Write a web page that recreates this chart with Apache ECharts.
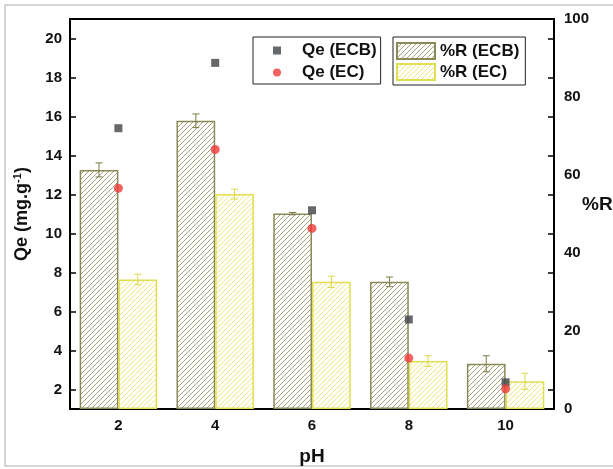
<!DOCTYPE html>
<html>
<head>
<meta charset="utf-8">
<script src="https://cdn.jsdelivr.net/npm/echarts@6/dist/echarts.min.js"></script>
<style>html,body{margin:0;padding:0;background:#fff}#c{width:613px;height:469px}</style>
</head>
<body>
<div id="c"></div>
<script>
// ---- data ----
const categories = ['2', '4', '6', '8', '10'];
const qeECB = [15.40, 18.75, 11.19, 5.59, 2.37];
const qeEC = [12.32, 14.31, 10.26, 3.61, 2.04];
const rECB = [61.3, 73.9, 50.1, 32.6, 11.6];
const rEC = [33.2, 55.1, 32.6, 12.3, 7.1];
const errECB = [1.8, 1.75, 0.3, 1.23, 2.05];
const errEC = [1.36, 1.28, 1.46, 1.36, 2.05];
const leftTicks = [2, 4, 6, 8, 10, 12, 14, 16, 18, 20];
const rightLabels = [0, 20, 40, 60, 80, 100];

const FONT = 'Liberation Sans, Arial, sans-serif';

function hatch(color) {
  const s = 5;
  const c = document.createElement('canvas');
  c.width = s; c.height = s;
  const ctx = c.getContext('2d');
  ctx.strokeStyle = color;
  ctx.lineWidth = 1;
  ctx.beginPath();
  ctx.moveTo(0, s); ctx.lineTo(s, 0);
  ctx.moveTo(-1, 1); ctx.lineTo(1, -1);
  ctx.moveTo(s - 1, s + 1); ctx.lineTo(s + 1, s - 1);
  ctx.stroke();
  return c;
}

const ecbBorder = '#8a8a58';
const ecBorder = '#e2de52';
const ecbHatch = hatch('#a4a47c');
const ecHatch = hatch('#ecea86');

function errSeries(name, vals, errs, offset, color) {
  return {
    name: name + ' err',
    type: 'custom',
    yAxisIndex: 1,
    z: 5,
    silent: true,
    data: vals.map((v, i) => [i, v, errs[i]]),
    renderItem: function (params, api) {
      const ci = api.value(0), v = api.value(1), e = api.value(2);
      const band = api.size([1, 0])[0];
      const x = api.coord([ci, 0])[0] + offset * band;
      const yt = api.coord([ci, v + e])[1];
      const yb = api.coord([ci, v - e])[1];
      const hw = 3.5;
      const st = { stroke: color, lineWidth: 1 };
      return {
        type: 'group',
        children: [
          { type: 'line', shape: { x1: x, y1: yt, x2: x, y2: yb }, style: st },
          { type: 'line', shape: { x1: x - hw, y1: yt, x2: x + hw, y2: yt }, style: st },
          { type: 'line', shape: { x1: x - hw, y1: yb, x2: x + hw, y2: yb }, style: st }
        ]
      };
    }
  };
}

const chart = echarts.init(document.getElementById('c'), null, { renderer: 'canvas' });
chart.setOption({
  animation: false,
  backgroundColor: '#fff',
  textStyle: { fontFamily: FONT },
  graphic: [{
    type: 'rect', silent: true, z: -10,
    shape: { x: 5, y: 5, width: 640, height: 461 },
    style: { fill: 'none', stroke: '#c8c8c8', lineWidth: 1.5 }
  }, {
    type: 'text', silent: true,
    x: 582, y: 205,
    style: { text: '%R', font: 'bold 19px ' + FONT, fill: '#111', textAlign: 'left', textVerticalAlign: 'middle' }
  }],
  grid: {
    left: 70, right: 59, top: 19, bottom: 60,
    containLabel: false, outerBoundsMode: 'none',
    show: true, borderColor: '#000', borderWidth: 2
  },
  legend: [{
    orient: 'vertical',
    left: 253, top: 37,
    padding: [5, 4, 3, 20],
    itemGap: 5,
    itemWidth: 8, itemHeight: 8,
    borderColor: '#222', borderWidth: 1,
    textStyle: { fontFamily: FONT, fontWeight: 'bold', fontSize: 17, color: '#111', padding: [0, 0, 0, 16] },
    data: [{ name: 'Qe (ECB)', icon: 'rect' }, { name: 'Qe (EC)', icon: 'circle' }]
  }, {
    orient: 'vertical',
    left: 393, top: 37,
    padding: [5, 6, 4, 3],
    itemGap: 3,
    itemWidth: 38, itemHeight: 16,
    borderColor: '#222', borderWidth: 1,
    textStyle: { fontFamily: FONT, fontWeight: 'bold', fontSize: 17, color: '#111' },
    data: [{ name: '%R (ECB)', icon: 'rect' }, { name: '%R (EC)', icon: 'rect' }]
  }],
  xAxis: {
    type: 'category',
    data: categories,
    boundaryGap: true,
    name: 'pH',
    nameLocation: 'middle',
    nameGap: 38,
    nameTextStyle: { fontFamily: FONT, fontWeight: 'bold', fontSize: 19, color: '#111' },
    axisLine: { lineStyle: { color: '#000', width: 2 } },
    axisTick: { inside: true, alignWithLabel: true, length: 5, lineStyle: { color: '#000', width: 1.5 } },
    axisLabel: { fontFamily: FONT, fontWeight: 'bold', fontSize: 15, color: '#111', margin: 9 },
    splitLine: { show: false }
  },
  yAxis: [{
    type: 'value',
    min: 1, max: 21,
    position: 'left',
    name: 'Qe (mg.g{sup|-1})',
    nameLocation: 'middle',
    nameGap: 38,
    nameRotate: 90,
    nameTextStyle: {
      fontFamily: FONT, fontWeight: 'bold', fontSize: 18, color: '#111',
      rich: { sup: { fontFamily: FONT, fontWeight: 'bold', fontSize: 11, color: '#111', padding: [0, 0, 9, 0] } }
    },
    axisLine: { show: true, lineStyle: { color: '#000', width: 2 } },
    axisTick: { show: true, inside: true, length: 6, customValues: leftTicks, lineStyle: { color: '#000', width: 1.5 } },
    axisLabel: { fontFamily: FONT, fontWeight: 'bold', fontSize: 15, color: '#111', margin: 8, customValues: leftTicks },
    splitLine: { show: false }
  }, {
    type: 'value',
    min: 0, max: 100,
    position: 'right',
    axisLine: { show: true, lineStyle: { color: '#000', width: 2 } },
    axisTick: { show: true, inside: true, length: 6, customValues: leftTicks.map(v => (v - 1) * 5), lineStyle: { color: '#000', width: 1.5 } },
    axisLabel: { fontFamily: FONT, fontWeight: 'bold', fontSize: 15, color: '#111', margin: 10, customValues: rightLabels },
    splitLine: { show: false }
  }],
  series: [{
    name: '%R (ECB)',
    type: 'bar',
    yAxisIndex: 1,
    data: rECB,
    barGap: '0%',
    barCategoryGap: '20%',
    itemStyle: { color: { image: ecbHatch, repeat: 'repeat' }, borderColor: ecbBorder, borderWidth: 1.5 },
    z: 2
  }, {
    name: '%R (EC)',
    type: 'bar',
    yAxisIndex: 1,
    data: rEC,
    barGap: '0%',
    barCategoryGap: '20%',
    itemStyle: { color: { image: ecHatch, repeat: 'repeat' }, borderColor: ecBorder, borderWidth: 1.5 },
    z: 2
  },
  errSeries('%R (ECB)', rECB, errECB, -0.2, '#7a7a44'),
  errSeries('%R (EC)', rEC, errEC, 0.2, '#dcd84a'),
  {
    name: 'Qe (ECB)',
    type: 'scatter',
    yAxisIndex: 0,
    data: qeECB,
    symbol: 'rect',
    symbolSize: 8,
    itemStyle: { color: '#3e4446' },
    z: 10
  }, {
    name: 'Qe (EC)',
    type: 'scatter',
    yAxisIndex: 0,
    data: qeEC,
    symbol: 'circle',
    symbolSize: 9,
    itemStyle: { color: '#f03a3a' },
    z: 10
  }]
});
</script>
</body>
</html>
